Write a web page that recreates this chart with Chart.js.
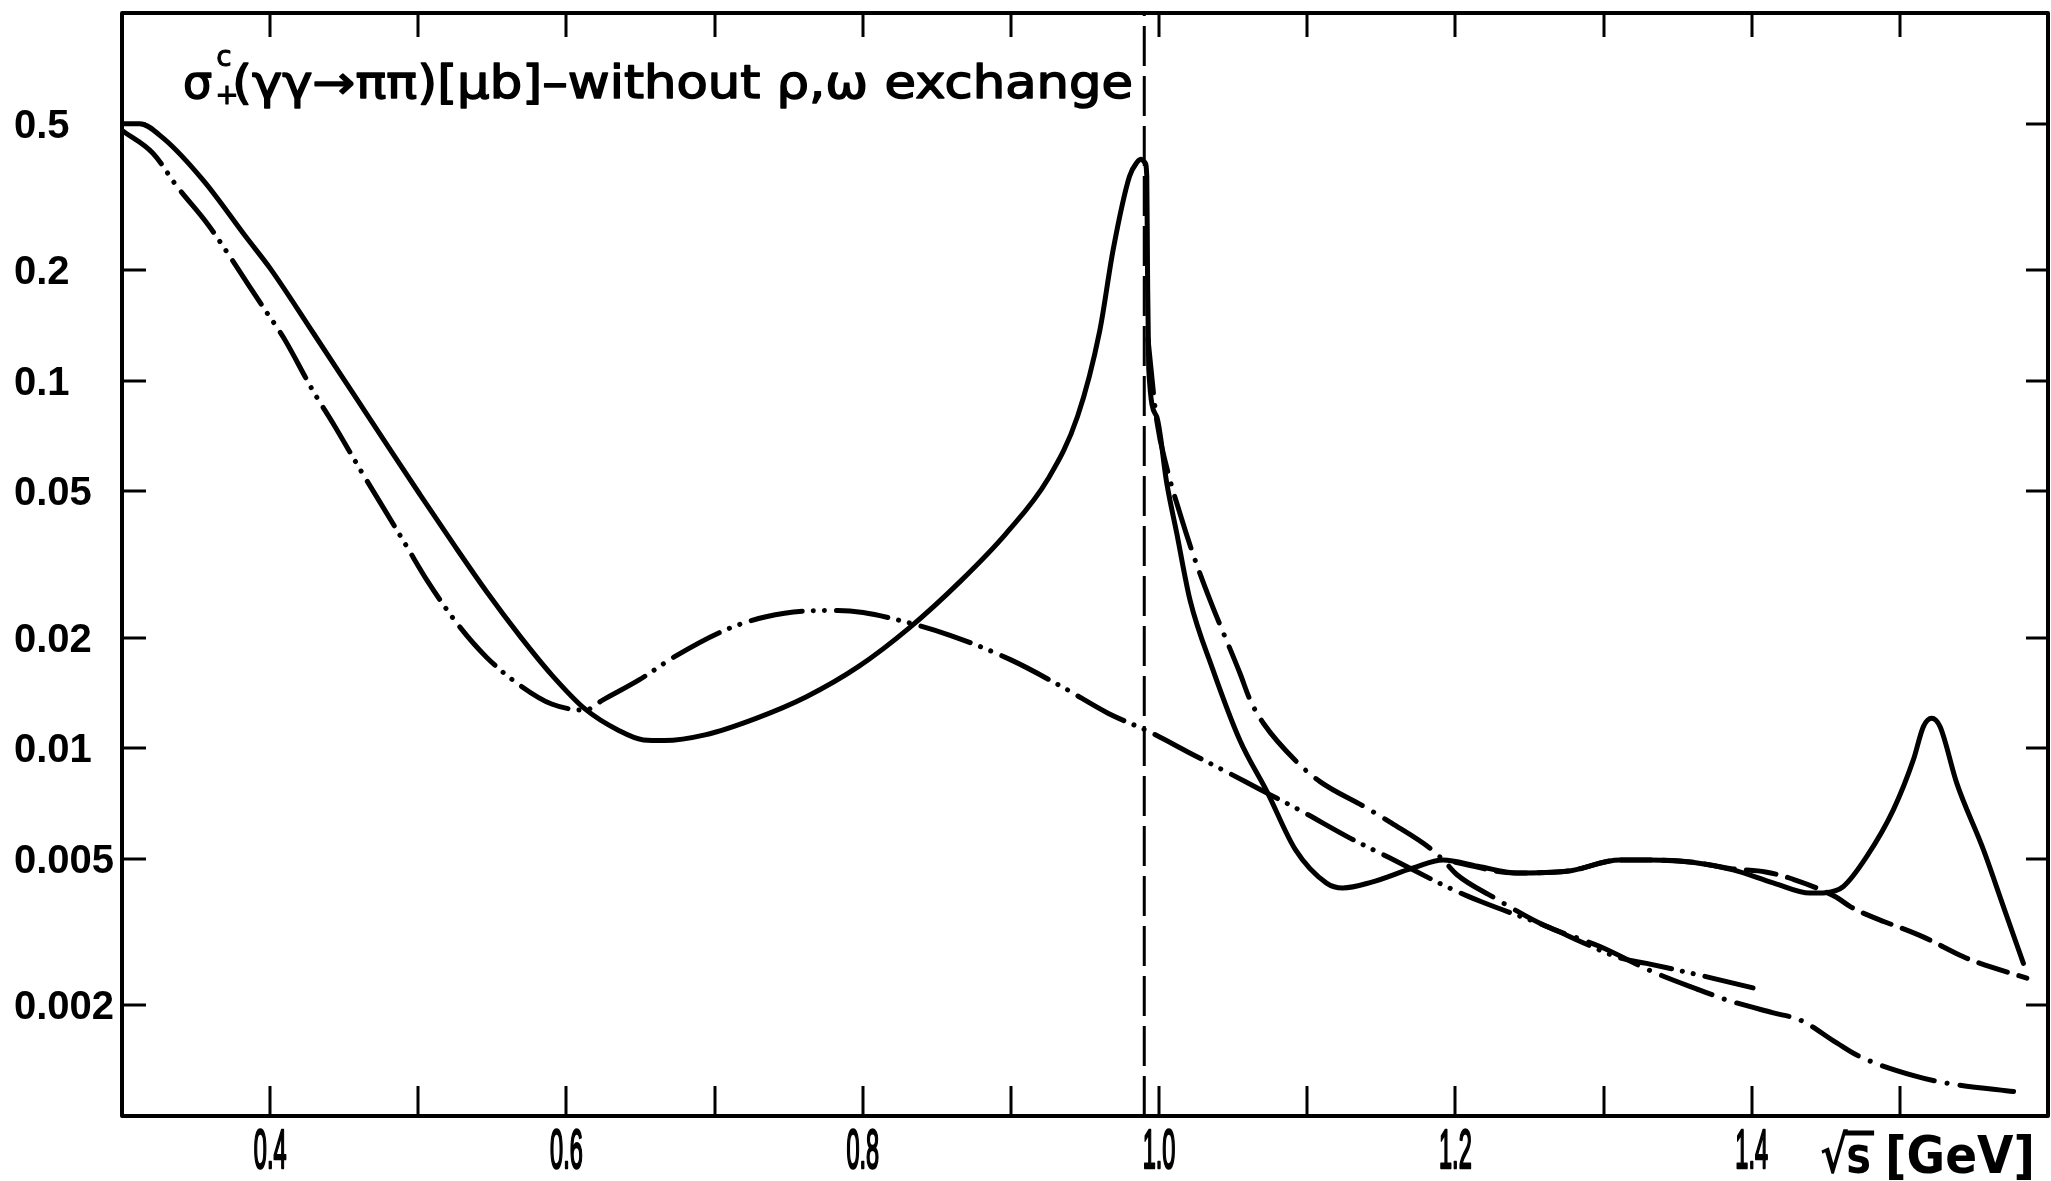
<!DOCTYPE html>
<html>
<head>
<meta charset="utf-8">
<title>sigma gamma gamma to pi pi</title>
<script src="https://cdn.jsdelivr.net/npm/chart.js@4.4.0/dist/chart.umd.min.js"></script>
<style>
  html, body { margin: 0; padding: 0; background: #fff; }
  #wrap { width: 2051px; height: 1181px; }
</style>
</head>
<body>
<div id="wrap"><canvas id="sigma-chart" width="2051" height="1181"></canvas></div>
<script>
// sqrt(s) [GeV] and sigma [mub] along each curve

// full result (solid)
const fullX = [0.300, 0.312, 0.328, 0.355, 0.384, 0.400, 0.429, 0.456, 0.483, 0.501,
  0.524, 0.546, 0.569, 0.590, 0.6125, 0.635, 0.652, 0.666, 0.6935, 0.728,
  0.762, 0.797, 0.831, 0.866, 0.897, 0.925, 0.945, 0.960, 0.969, 0.980,
  0.985, 0.988, 0.9905, 0.9917, 0.9922, 0.9930, 0.9984, 1.0052, 1.0119, 1.0209,
  1.036, 1.0546, 1.073, 1.092, 1.113, 1.124, 1.143, 1.1715, 1.1917, 1.215,
  1.2416, 1.275, 1.311, 1.3314, 1.360, 1.3874, 1.415, 1.4394, 1.450, 1.4619,
  1.4777, 1.4956, 1.5091, 1.5159, 1.5215, 1.5271, 1.5384, 1.5564, 1.5699, 1.5834];
const fullY = [0.500, 0.500, 0.456, 0.350, 0.245, 0.202, 0.135, 0.0923, 0.0631, 0.0491,
  0.0358, 0.0267, 0.0201, 0.01585, 0.0128, 0.0112, 0.01054, 0.0105, 0.01088, 0.01207,
  0.01382, 0.01668, 0.0212, 0.0285, 0.0385, 0.054, 0.080, 0.137, 0.227, 0.359,
  0.392, 0.400, 0.392, 0.360, 0.200, 0.108, 0.0798, 0.0526, 0.0385, 0.0253,
  0.0165, 0.0105, 0.0076, 0.0053, 0.0043, 0.00417, 0.00432, 0.00473, 0.00497, 0.00478,
  0.00458, 0.00463, 0.00497, 0.00497, 0.00490, 0.00467, 0.00430, 0.00404, 0.00405, 0.00421,
  0.00508, 0.0068, 0.0093, 0.01146, 0.01207, 0.01146, 0.00804, 0.0053, 0.00371, 0.0026];

// dash-dot-dot curve
const dddX = [0.300, 0.321, 0.337, 0.358, 0.373, 0.395, 0.409, 0.429, 0.443, 0.461,
  0.474, 0.492, 0.506, 0.526, 0.546, 0.569, 0.590, 0.6125, 0.6247, 0.649,
  0.673, 0.7074, 0.7347, 0.7624, 0.7832, 0.8002, 0.8245, 0.8589, 0.900, 0.9345,
  0.9655, 0.9932, 1.021, 1.0587, 1.0738, 1.0952, 1.1289, 1.1559, 1.1917, 1.2079,
  1.218, 1.2639, 1.2862, 1.3111, 1.329, 1.3584, 1.4009];
const dddY = [0.479, 0.415, 0.338, 0.266, 0.217, 0.159, 0.131, 0.0937, 0.0759, 0.0571,
  0.0468, 0.0355, 0.0286, 0.0219, 0.0177, 0.0148, 0.0132, 0.0127, 0.01355, 0.01535,
  0.01776, 0.0210, 0.0228, 0.02364, 0.0237, 0.0234, 0.0223, 0.0203, 0.0174, 0.0147,
  0.01246, 0.0111, 0.0097, 0.0081, 0.00752, 0.00678, 0.0057, 0.00503, 0.00425, 0.00397,
  0.00382, 0.00325, 0.00296, 0.00269, 0.0026, 0.00245, 0.00223];

// dash-dot curve, starts at the KK threshold
const ddX = [0.9925, 0.9984, 1.0052, 1.0141, 1.0231, 1.0344, 1.0546, 1.0614, 1.0704, 1.094,
  1.1086, 1.1402, 1.157, 1.1829, 1.1917, 1.2011, 1.2254, 1.260, 1.2976, 1.333,
  1.365, 1.383, 1.414, 1.4326, 1.4574, 1.472, 1.510, 1.5294, 1.5823];
const ddY = [0.130, 0.078, 0.058, 0.0435, 0.0336, 0.0253, 0.0160, 0.01355, 0.0117, 0.0091,
  0.00812, 0.00688, 0.00626, 0.00535, 0.00497, 0.00453, 0.00394, 0.0033, 0.00289, 0.00247,
  0.0022, 0.00207, 0.00191, 0.001825, 0.00158, 0.001457, 0.001285, 0.001233, 0.001158];

// long-dashed curve (high energy side)
const dashX = [1.200, 1.240, 1.275, 1.311, 1.3314, 1.360, 1.3874, 1.4094, 1.429, 1.4569,
  1.4671, 1.490, 1.4988, 1.5157, 1.5429, 1.5508, 1.5857];
const dashY = [0.00490, 0.00458, 0.00463, 0.00497, 0.00497, 0.00490, 0.00470, 0.00461, 0.00439, 0.00394,
  0.0037, 0.00337, 0.00327, 0.00307, 0.00271, 0.00263, 0.00237];

// 2 m_K threshold
const thresholdX = 0.99;

// axis ticks and labels
const xTicks = [0.4, 0.5, 0.6, 0.7, 0.8, 0.9, 1.0, 1.1, 1.2, 1.3, 1.4, 1.5];
const xLabelVals = [0.4, 0.6, 0.8, 1.0, 1.2, 1.4];
const xLabelText = ['0.4', '0.6', '0.8', '1.0', '1.2', '1.4'];
const yTicks = [0.5, 0.2, 0.1, 0.05, 0.02, 0.01, 0.005, 0.002];
const yLabelText = ['0.5', '0.2', '0.1', '0.05', '0.02', '0.01', '0.005', '0.002'];

function pts(xs, ys) {
  return xs.map((x, i) => ({ x: x, y: ys[i] }));
}

function curve(data, dash, width) {
  return {
    data: data,
    borderColor: '#000',
    borderWidth: width || 5,
    borderDash: dash || [],
    borderCapStyle: 'round',
    borderJoinStyle: 'round',
    pointRadius: 0,
    fill: false,
    cubicInterpolationMode: 'monotone'
  };
}

// squeezed text, thickened a little with a stroke
function narrowText(ctx, text, x, y, sx, thick) {
  ctx.save();
  ctx.translate(x, y);
  ctx.scale(sx, 1);
  ctx.fillText(text, 0, 0);
  if (thick) {
    ctx.lineWidth = thick;
    ctx.strokeText(text, 0, 0);
  }
  ctx.restore();
}

// frame, inward ticks, labels and the caption
const framePlugin = {
  id: 'frame',
  afterDraw(chart) {
    const ctx = chart.ctx;
    const a = chart.chartArea;
    const sx = chart.scales.x, sy = chart.scales.y;
    ctx.save();
    ctx.strokeStyle = '#000';
    ctx.fillStyle = '#000';
    ctx.lineJoin = 'round';

    ctx.lineWidth = 4;
    ctx.strokeRect(a.left, a.top, a.right - a.left, a.bottom - a.top);

    ctx.lineWidth = 3;
    ctx.beginPath();
    xTicks.forEach(v => {
      const px = Math.round(sx.getPixelForValue(v));
      ctx.moveTo(px, a.bottom); ctx.lineTo(px, a.bottom - 30);
      ctx.moveTo(px, a.top); ctx.lineTo(px, a.top + 24);
    });
    yTicks.forEach(v => {
      const py = Math.round(sy.getPixelForValue(v));
      ctx.moveTo(a.left, py); ctx.lineTo(a.left + 24, py);
      ctx.moveTo(a.right, py); ctx.lineTo(a.right - 22, py);
    });
    ctx.stroke();

    // y labels, left aligned
    ctx.font = 'bold 40px "Liberation Sans"';
    ctx.textAlign = 'left';
    ctx.textBaseline = 'middle';
    yTicks.forEach((v, i) => {
      ctx.fillText(yLabelText[i], 14, sy.getPixelForValue(v) + 3);
    });

    // x labels, narrow
    ctx.font = '56px "Liberation Sans"';
    ctx.textAlign = 'center';
    ctx.textBaseline = 'middle';
    xLabelVals.forEach((v, i) => {
      narrowText(ctx, xLabelText[i], sx.getPixelForValue(v), 1153, 0.42, 2.5);
    });

    // axis title: sqrt(s) [GeV]
    ctx.textAlign = 'left';
    ctx.textBaseline = 'alphabetic';
    const base = 1173;
    ctx.save();
    ctx.translate(1820, base);
    ctx.scale(0.8, 1);
    ctx.font = 'bold 52px "DejaVu Sans"';
    ctx.fillText('\u221A', 0, 0);
    const rw = ctx.measureText('\u221A').width;
    ctx.fillText('s', rw - 2, 0);
    const sw = ctx.measureText('s').width;
    ctx.lineWidth = 5;
    ctx.beginPath();
    ctx.moveTo(rw - 6, -40); ctx.lineTo(rw + sw + 2, -40);
    ctx.stroke();
    ctx.restore();
    ctx.font = 'bold 52px "DejaVu Sans"';
    const gev = '[GeV]';
    narrowText(ctx, gev, 1885, base, 150 / ctx.measureText(gev).width, 0);

    // caption inside the frame
    const capBase = 98;
    ctx.font = '46px "DejaVu Sans"';
    narrowText(ctx, '\u03C3', 183, capBase, 1, 1.5);
    const sigW = ctx.measureText('\u03C3').width;
    ctx.font = '28px "DejaVu Sans"';
    narrowText(ctx, 'c', 183 + sigW + 4, capBase - 32, 1, 1);
    narrowText(ctx, '+', 183 + sigW + 3, capBase + 6, 1, 1);
    ctx.font = '46px "DejaVu Sans"';
    const cap = '(\u03B3\u03B3\u2192\u03C0\u03C0)[\u03BCb]\u2013without \u03C1,\u03C9 exchange';
    const capX = 232, capEnd = 1133;
    const natural = ctx.measureText(cap).width;
    narrowText(ctx, cap, capX, capBase, (capEnd - capX) / natural, 1.5);

    ctx.restore();
  }
};

new Chart(document.getElementById('sigma-chart'), {
  type: 'line',
  data: {
    datasets: [
      curve(pts(fullX, fullY), [], 5),
      curve(pts(dddX, dddY), [52, 11, 0.1, 11, 0.1, 12], 5),
      curve(pts(ddX, ddY), [54, 13, 0.1, 13], 5),
      curve(pts(dashX, dashY), [30, 12], 5),
      Object.assign(curve([{ x: thresholdX, y: 0.001 }, { x: thresholdX, y: 1 }], [40, 10], 3),
        { borderCapStyle: 'butt', cubicInterpolationMode: 'default', tension: 0 })
    ]
  },
  options: {
    responsive: false,
    animation: false,
    layout: { padding: { left: 122, right: 3, top: 13, bottom: 65 } },
    scales: {
      x: { type: 'linear', min: 0.3, max: 1.6, display: false },
      y: { type: 'logarithmic', min: 0.001, max: 1, display: false }
    },
    plugins: {
      legend: { display: false },
      tooltip: { enabled: false }
    }
  },
  plugins: [framePlugin]
});
</script>
</body>
</html>
